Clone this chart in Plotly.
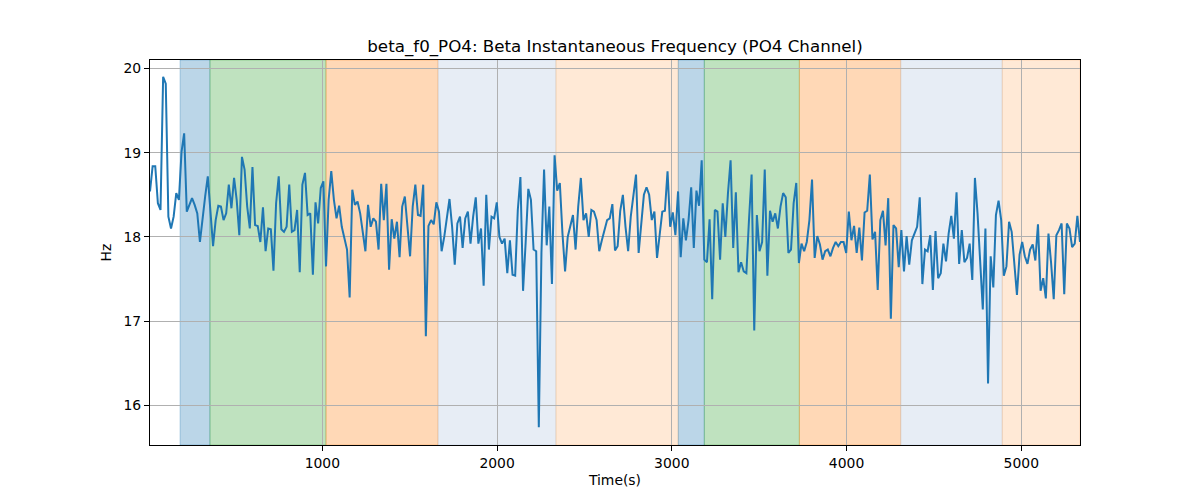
import numpy as np
import plotly.graph_objects as go

# ---- data ----
T_START = 14.0
T_END = 5336.0

beta_hz = [
    # segment 1
    18.54, 18.84, 18.84, 18.40, 18.32, 19.90, 19.82, 18.24, 18.10, 18.24,
    18.52, 18.44, 19.01, 19.23, 18.30, 18.38, 18.46, 18.38, 18.28, 17.94,
    18.24, 18.48, 18.72, 18.24, 17.89, 18.20, 18.37, 18.36, 18.20, 18.28,
    18.62, 18.34, 18.70, 18.44, 18.02, 18.95, 18.80, 18.36, 18.10, 18.83,
    18.14, 18.13, 17.94, 18.35, 17.83, 18.10, 18.09, 17.60, 18.40, 18.72,
    18.09, 18.06, 18.12, 18.62, 18.06, 18.08, 18.32, 17.58, 18.62, 18.76,
    18.26, 18.28, 17.55, 18.41, 18.16, 18.58, 18.66, 17.65, 18.44, 18.78,
    18.44, 18.22, 18.37, 18.12, 18.00, 17.85, 17.28, 18.56, 18.38, 18.42,
    18.28, 18.04, 17.83, 18.38, 18.12, 18.22, 18.18, 17.85, 18.63, 18.20,
    18.63, 17.61, 18.21, 17.98, 18.18, 17.76, 18.36, 18.48, 18.10, 17.77,
    18.36, 18.62, 18.26, 18.25, 18.62, 16.82, 18.13, 18.20, 18.15, 18.41,
    18.30, 17.83, 18.00, 18.20,
    # segment 2
    18.45, 18.12, 17.67, 18.16, 18.24, 17.87, 18.22, 18.30, 17.92, 18.24,
    18.47, 17.92, 18.10, 17.42, 18.50, 17.85, 18.24, 18.22, 18.41, 18.00,
    17.92, 17.98, 17.57, 17.96, 17.55, 17.54, 18.32, 18.71, 17.36, 17.94,
    18.57, 18.44, 17.85, 17.83, 15.74, 17.81, 18.80, 17.90, 18.36, 17.44,
    18.97, 18.55, 18.64, 18.04, 17.59, 18.00, 18.14, 18.26, 17.85, 18.36,
    18.70, 18.20, 18.28, 18.00, 18.32, 18.30, 18.20, 17.83, 17.96, 18.08,
    18.20, 18.22, 18.39, 17.84, 17.89, 18.31, 18.50, 18.12, 17.83, 18.24,
    18.52, 18.74, 17.81, 18.20, 18.50, 18.59, 18.50, 18.20, 18.30, 17.75,
    18.02, 18.30, 18.31, 18.78, 18.12, 18.29, 18.02, 18.54, 17.76, 18.22,
    17.96, 18.20, 18.59, 17.87, 18.55, 18.37, 18.91, 17.73, 17.70,
    # segment 3
    18.21, 17.26, 18.32, 18.30, 17.73, 18.40, 18.00, 18.52, 18.91, 17.87,
    18.53, 17.58, 17.70, 17.59, 17.57, 18.20, 18.74, 16.89, 18.26, 17.83,
    17.94, 18.80, 17.54, 18.31, 18.18, 18.28, 18.10, 18.36, 18.52, 18.47,
    17.81, 17.85, 18.40, 18.64, 17.69, 17.92, 17.83, 17.94, 18.20, 18.68,
    17.75, 18.01, 17.91, 17.73, 17.83, 17.85, 17.77, 17.87, 17.94, 17.89,
    17.94, 17.94, 17.81, 18.30, 17.96, 18.13, 17.81, 18.11, 17.72, 18.29,
    18.31, 18.74, 17.97, 18.06, 17.37, 18.20, 18.31, 17.90, 18.46, 17.03,
    18.14, 18.10, 17.64, 18.08, 17.59, 18.01, 17.67, 17.96, 18.05, 18.12,
    18.47, 17.44, 17.85, 17.83, 18.02, 17.37, 18.07, 17.51, 17.57, 17.92,
    17.71, 18.04, 18.25, 17.98, 18.53, 17.68, 18.08, 17.70, 17.75, 17.92,
    17.49, 18.70, 18.28, 17.73, 17.14, 18.10, 16.26, 17.77, 17.40, 18.26,
    18.43, 18.20, 17.54, 17.65, 18.18,
    # segment 4
    18.06, 17.65, 17.31, 17.79, 17.94, 17.77, 17.68, 17.85, 17.91, 17.72,
    18.15, 17.36, 17.51, 17.27, 18.04, 17.69, 17.26, 18.02, 18.08, 18.16,
    17.32, 18.16, 18.10, 17.88, 17.92, 18.25, 17.94,
]

time_s = np.linspace(T_START, T_END, len(beta_hz))

# shaded phases (start, end, colour)
span_start = [186, 357, 1021, 1662, 2337, 3037, 3186, 3730, 4310, 4891]
span_end = [357, 1021, 1662, 2337, 3037, 3186, 3730, 4310, 4891, 5336]
span_color = [
    "rgba(31,119,180,0.3)",
    "rgba(44,160,44,0.3)",
    "rgba(255,127,14,0.3)",
    "rgba(176,196,222,0.3)",
    "rgba(255,127,14,0.17)",
    "rgba(31,119,180,0.3)",
    "rgba(44,160,44,0.3)",
    "rgba(255,127,14,0.3)",
    "rgba(176,196,222,0.3)",
    "rgba(255,127,14,0.17)",
]

x_ticks = [1000, 2000, 3000, 4000, 5000]
y_ticks = [16, 17, 18, 19, 20]

fig = go.Figure()

for s, e, c in zip(span_start, span_end, span_color):
    fig.add_vrect(x0=s, x1=e, fillcolor=c, line=dict(color=c, width=1),
                  layer="below")

fig.add_trace(go.Scatter(
    x=time_s, y=beta_hz, mode="lines",
    line=dict(color="#1f77b4", width=2),
    showlegend=False,
))

font = "DejaVu Sans"
# the page body adds an 8px offset; margins compensate for it
fig.update_layout(
    width=1200, height=500,
    margin=dict(l=142, r=128, t=52, b=63),
    paper_bgcolor="white", plot_bgcolor="white",
    font=dict(family=font, size=13.9, color="black"),
    title=dict(
        text="beta_f0_PO4: Beta Instantaneous Frequency (PO4 Channel)",
        x=607 / 1200, xanchor="center",
        y=1 - 38 / 500, yanchor="middle",
        font=dict(family=font, size=16.7, color="black"),
    ),
)
fig.update_xaxes(
    range=[T_START, T_END],
    tickvals=x_ticks,
    showgrid=True, gridcolor="#b0b0b0", gridwidth=1,
    showline=True, linecolor="black", linewidth=1, mirror=True,
    ticks="outside", ticklen=5, tickcolor="black",
    zeroline=False,
    title=dict(text="Time(s)", font=dict(family=font, size=13.9), standoff=5),
    tickfont=dict(family=font, size=13.9),
)
fig.update_yaxes(
    range=[15.53, 20.10],
    tickvals=y_ticks,
    showgrid=True, gridcolor="#b0b0b0", gridwidth=1,
    showline=True, linecolor="black", linewidth=1, mirror=True,
    ticks="outside", ticklen=5, tickcolor="black",
    zeroline=False,
    title=dict(text="Hz", font=dict(family=font, size=13.9), standoff=8),
    tickfont=dict(family=font, size=13.9),
)

fig.write_html("out.html")
